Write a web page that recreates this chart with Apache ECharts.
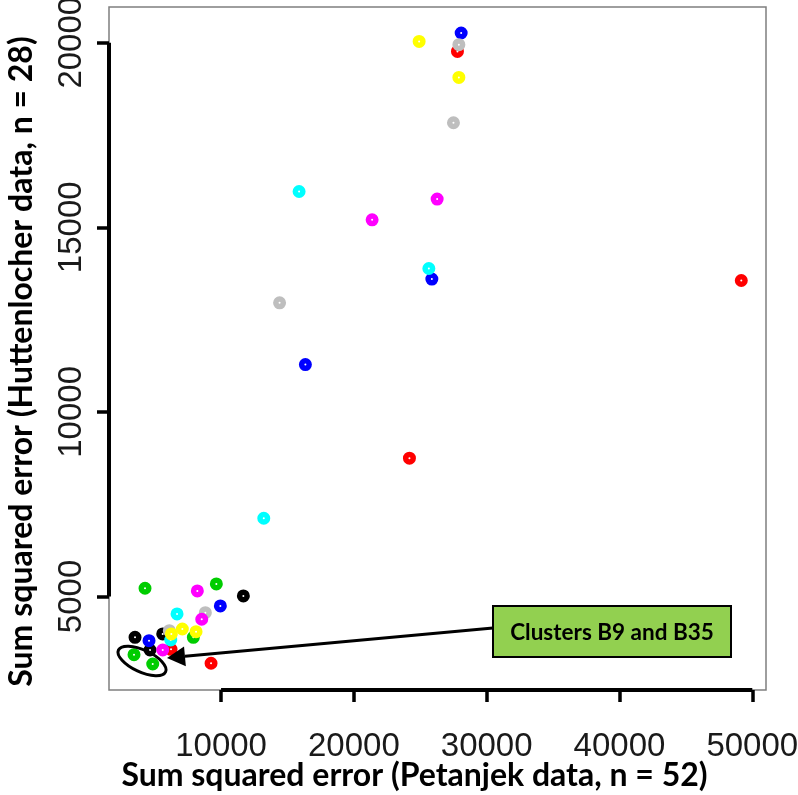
<!DOCTYPE html>
<html><head><meta charset="utf-8">
<script src="https://cdn.jsdelivr.net/npm/echarts@6/dist/echarts.min.js"></script>
<style>html,body{margin:0;padding:0;background:#fff}#c{width:798px;height:795px}</style>
</head><body><div id="c"></div>
<script>
// Axis ticks and ranges
const xTicks = [10000, 20000, 30000, 40000, 50000];
const yTicks = [5000, 10000, 15000, 20000];
const xRange = [1563, 51032];
const yRange = [2466, 20967];

// Points per colour group: [Petanjek SSE, Huttenlocher SSE]
const blackPts   = [[11680,5014],[5608,3984],[3522,3894],[4652,3550]];
const redPts     = [[6234,3569],[9247,3190],[24185,8745],[49171,13558],[27800,19764]];
const greenPts   = [[4275,5222],[9646,5339],[7913,3894],[3446,3423],[4855,3171]];
const bluePts    = [[9947,4743],[4576,3802],[16350,11282],[25872,13596],[28079,20263]];
const cyanPts    = [[6686,4526],[6211,3821],[13217,7119],[15876,15970],[25646,13883]];
const grayPts    = [[8817,4561],[6105,4073],[14407,12954],[27906,19946],[27499,17832]];
const magentaPts = [[8215,5149],[8546,4382],[5608,3550],[21375,15203],[26271,15764]];
const yellowPts  = [[7085,4119],[8117,4046],[6256,3984],[24915,20035],[27906,19060]];

const groups = [
  ['black', blackPts, '#000000'],
  ['red', redPts, '#FF0000'],
  ['green', greenPts, '#00CD00'],
  ['blue', bluePts, '#0000FF'],
  ['cyan', cyanPts, '#00FFFF'],
  ['gray', grayPts, '#BEBEBE'],
  ['magenta', magentaPts, '#FF00FF'],
  ['yellow', yellowPts, '#FFFF00']
];

// Annotation anchors in data space
const arrowTip = [5932, 3333];
const ellipseCenter = [4049, 3252];
const noteText = 'Clusters B9 and B35';

const chart = echarts.init(document.getElementById('c'));
const axisFont = 'Liberation Sans';
const titleFont = 'Lato';

const series = groups.map(g => ({
  name: g[0], type: 'scatter', data: g[1], symbol: 'circle', symbolSize: 7.5,
  itemStyle: { color: '#ffffff', borderColor: g[2], borderWidth: 5.5, opacity: 1 },
  silent: true, animation: false, z: 3
}));
series.push({
  type: 'line', data: [[xTicks[0], yRange[0]], [xTicks[xTicks.length-1], yRange[0]]],
  symbol: 'none', clip: false, silent: true, animation: false, z: 5,
  lineStyle: { color: '#000', width: 4 }
});
series.push({
  type: 'line', data: [[xRange[0], yTicks[0]], [xRange[0], yTicks[yTicks.length-1]]],
  symbol: 'none', clip: false, silent: true, animation: false, z: 5,
  lineStyle: { color: '#000', width: 4 }
});

const plain = v => String(v);

chart.setOption({
  animation: false,
  backgroundColor: '#ffffff',
  grid: { left: 109, top: 7, right: 32, bottom: 105, containLabel: false, outerBoundsMode: 'none',
          show: true, borderColor: '#7f7f7f', borderWidth: 1.5, backgroundColor: 'transparent' },
  xAxis: {
    type: 'value', min: xRange[0], max: xRange[1],
    axisLine: { show: false }, splitLine: { show: false },
    axisTick: { show: true, customValues: xTicks, length: 12, lineStyle: { color: '#000', width: 3.5 } },
    axisLabel: { show: true, customValues: xTicks, formatter: plain, fontSize: 33, fontFamily: axisFont, color: '#1a1a1a', margin: 40 },
    name: 'Sum squared error (Petanjek data, n = 52)', nameLocation: 'middle', nameGap: 70, nameMoveOverlap: false,
    nameTextStyle: { fontSize: 32, fontWeight: 'bold', fontFamily: titleFont, color: '#000', padding: [0, 46, 0, 0] }
  },
  yAxis: {
    type: 'value', min: yRange[0], max: yRange[1],
    axisLine: { show: false }, splitLine: { show: false },
    axisTick: { show: true, customValues: yTicks, length: 12, lineStyle: { color: '#000', width: 3.5 } },
    axisLabel: { show: true, customValues: yTicks, formatter: plain, rotate: 90, fontSize: 33, fontFamily: axisFont, color: '#1a1a1a', margin: 21 },
    name: 'Sum squared error (Huttenlocher data, n = 28)', nameLocation: 'middle', nameGap: 71,
    nameTextStyle: { fontSize: 32, fontWeight: 'bold', fontFamily: titleFont, color: '#000', padding: [0, 26, 0, 0] }
  },
  series: series
});

// Annotations
const tip = chart.convertToPixel({ gridIndex: 0 }, arrowTip);
const ec = chart.convertToPixel({ gridIndex: 0 }, ellipseCenter);
const box = { x: 493, y: 606, w: 238, h: 51 };
const start = [box.x, box.y + 22];
const dx = tip[0] - start[0], dy = tip[1] - start[1];
const len = Math.sqrt(dx*dx + dy*dy);
const ux = dx / len, uy = dy / len;
const headLen = 18, headHalf = 10;
const base = [tip[0] - ux*headLen, tip[1] - uy*headLen];
const nx = -uy, ny = ux;

chart.setOption({
  graphic: [
    { type: 'line', z: 10, shape: { x1: start[0], y1: start[1], x2: base[0], y2: base[1] }, style: { stroke: '#000', lineWidth: 3 } },
    { type: 'polygon', z: 10, shape: { points: [tip, [base[0] + nx*headHalf, base[1] + ny*headHalf], [base[0] - nx*headHalf, base[1] - ny*headHalf]] }, style: { fill: '#000' } },
    { type: 'ellipse', z: 10, x: ec[0], y: ec[1], rotation: -25 * Math.PI / 180, shape: { cx: 0, cy: 0, rx: 26, ry: 11 }, style: { fill: 'none', stroke: '#000', lineWidth: 3 } },
    { type: 'rect', z: 10, shape: { x: box.x, y: box.y, width: box.w, height: box.h }, style: { fill: '#92D050', stroke: '#000', lineWidth: 2 } },
    { type: 'text', z: 11, x: box.x + box.w/2, y: box.y + box.h/2 + 1, style: { text: noteText, font: 'bold 22.5px Lato', fill: '#000', align: 'center', verticalAlign: 'middle' } }
  ]
});
</script></body></html>
